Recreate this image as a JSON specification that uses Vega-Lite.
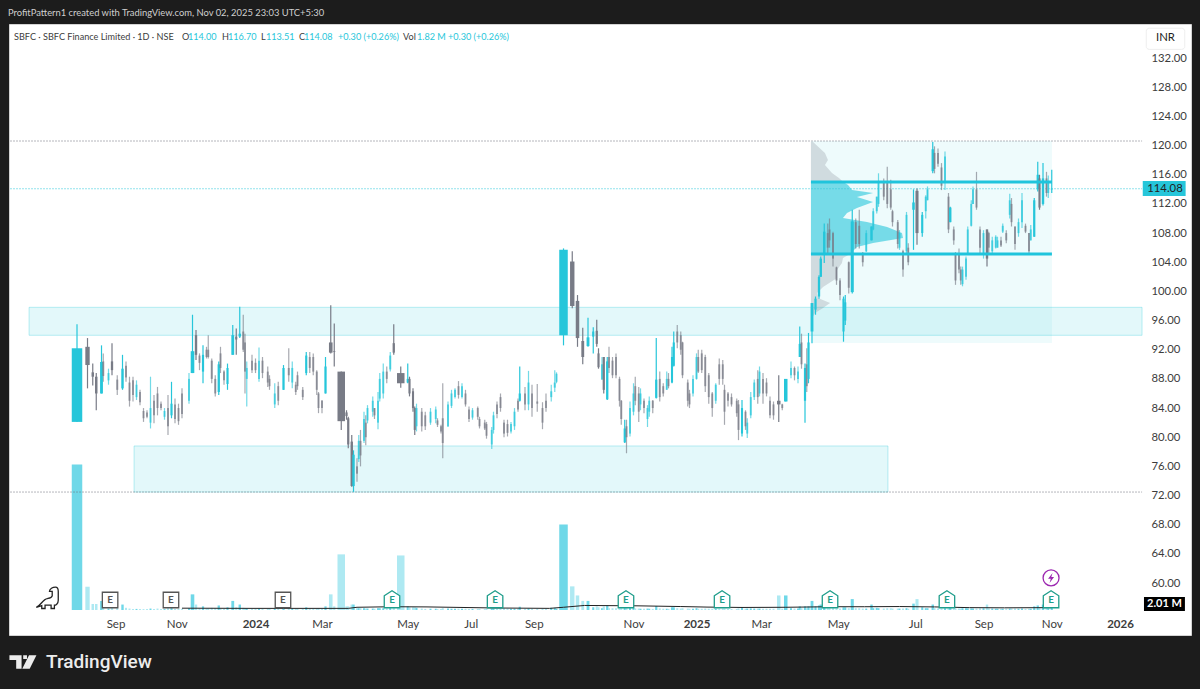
{"$schema":"https://vega.github.io/schema/vega-lite/v6.json","width":1182,"height":611,"autosize":"none","padding":{"left":9,"top":24,"right":9,"bottom":54},"background":"#1c1c1c","view":{"fill":"#ffffff","stroke":"#d4d4d4"},
"config":{"font":"Lato"},
"datasets":{"candles":[
{"i":0,"o":82.1,"h":95.5,"l":82.1,"c":92.2,"v":80},{"i":6,"o":92.4,"h":93.6,"l":86.7,"c":89.9,"v":12.8},{"i":9,"o":88.9,"h":90.1,"l":87.1,"c":88.3,"v":3.3},{"i":11,"o":88.3,"h":88.8,"l":83.7,"c":86,"v":3.3},{"i":14,"o":86,"h":92.6,"l":86,"c":90.3,"v":5},{"i":15,"o":90.4,"h":91.5,"l":87.6,"c":88.4,"v":1},{"i":18,"o":87.8,"h":89.4,"l":87.2,"c":88.8,"v":0.8},{"i":20,"o":90.4,"h":92.9,"l":88.5,"c":89.2,"v":2.5},{"i":23,"o":87.9,"h":88.5,"l":85.8,"c":86.5,"v":1},{"i":26,"o":86.7,"h":91.3,"l":86.5,"c":89.4,"v":3},{"i":28,"o":89.8,"h":90.4,"l":87.6,"c":88.2,"v":1.2},{"i":30,"o":87.5,"h":88.3,"l":84.2,"c":85,"v":0.8},{"i":32,"o":87.8,"h":88.3,"l":84.9,"c":85.8,"v":0.6},{"i":34,"o":85.5,"h":87.8,"l":85.1,"c":87.2,"v":0.6},{"i":36,"o":86.2,"h":86.5,"l":84.4,"c":84.8,"v":0.6},{"i":38,"o":83.6,"h":84,"l":82.1,"c":82.6,"v":0.5},{"i":40,"o":83.4,"h":83.7,"l":82.6,"c":82.8,"v":0.5},{"i":42,"o":82,"h":88.3,"l":81.2,"c":84,"v":0.8},{"i":44,"o":85,"h":85.8,"l":81.9,"c":83,"v":0.6},{"i":46,"o":86,"h":86.9,"l":83,"c":84,"v":0.8},{"i":48,"o":84.6,"h":84.9,"l":83.7,"c":84,"v":0.5},{"i":50,"o":82.8,"h":84,"l":82.4,"c":83.6,"v":0.5},{"i":52,"o":84,"h":85.8,"l":80.3,"c":81.5,"v":1},{"i":54,"o":83,"h":87.6,"l":82.6,"c":84.6,"v":1.5},{"i":56,"o":84.5,"h":85.3,"l":81.9,"c":82.5,"v":0.6},{"i":58,"o":84,"h":84.6,"l":81.7,"c":82.2,"v":0.6},{"i":60,"o":86,"h":86.7,"l":82.6,"c":83.2,"v":0.7},{"i":64,"o":85,"h":88.8,"l":84.6,"c":88,"v":1},{"i":66,"o":88.8,"h":96.8,"l":88.8,"c":91.8,"v":8.6},{"i":68,"o":94,"h":94.7,"l":90.6,"c":91.3,"v":3},{"i":70,"o":91.2,"h":91.5,"l":89.2,"c":90.2,"v":1},{"i":72,"o":89,"h":92.6,"l":87.4,"c":91.3,"v":2},{"i":74,"o":92,"h":92.4,"l":90.8,"c":91,"v":0.8},{"i":75,"o":92,"h":94,"l":90.8,"c":91,"v":0.8},{"i":77,"o":90.5,"h":90.8,"l":87.4,"c":88,"v":1.2},{"i":79,"o":88,"h":88.5,"l":85.6,"c":86,"v":1},{"i":81,"o":86.2,"h":90.4,"l":85.8,"c":90,"v":2.5},{"i":82,"o":91.5,"h":92.4,"l":88.8,"c":89.5,"v":0.8},{"i":84,"o":89,"h":89.2,"l":87.2,"c":87.8,"v":0.7},{"i":86,"o":87.3,"h":90.1,"l":86.5,"c":89.5,"v":1.5},{"i":89,"o":91.3,"h":95.4,"l":91.3,"c":94,"v":5},{"i":91,"o":93.8,"h":94.9,"l":91.3,"c":93.4,"v":1.5},{"i":93,"o":93.8,"h":97.9,"l":93.6,"c":94.2,"v":3},{"i":95,"o":94.5,"h":96.8,"l":91.7,"c":92,"v":1.2},{"i":96,"o":93,"h":94.2,"l":86,"c":89,"v":1},{"i":97,"o":88,"h":90.4,"l":84.2,"c":89.5,"v":0.8},{"i":100,"o":90.5,"h":91.3,"l":88.8,"c":89.2,"v":0.7},{"i":102,"o":90.2,"h":90.8,"l":88.8,"c":89.2,"v":0.6},{"i":104,"o":88,"h":92.3,"l":87.6,"c":90.5,"v":0.8},{"i":106,"o":90.5,"h":91,"l":88.1,"c":88.8,"v":0.7},{"i":109,"o":89,"h":89.7,"l":86.9,"c":87.5,"v":0.6},{"i":110,"o":88,"h":88.5,"l":86.5,"c":87,"v":0.6},{"i":113,"o":84.5,"h":87.4,"l":84,"c":86,"v":0.7},{"i":115,"o":87,"h":87.6,"l":84.4,"c":85,"v":0.6},{"i":118,"o":86.5,"h":89.9,"l":86.5,"c":89.5,"v":2},{"i":121,"o":89.5,"h":92.2,"l":87.6,"c":88.5,"v":1},{"i":123,"o":87.5,"h":90.4,"l":86.7,"c":89.5,"v":0.9},{"i":125,"o":87.2,"h":87.6,"l":85.8,"c":86.2,"v":0.6},{"i":126,"o":88.5,"h":89,"l":86.5,"c":87,"v":0.6},{"i":129,"o":86.5,"h":86.9,"l":85.1,"c":85.5,"v":0.6},{"i":131,"o":88.8,"h":91.7,"l":88.5,"c":91.2,"v":1.5},{"i":133,"o":91,"h":91.7,"l":88.8,"c":89.5,"v":0.8},{"i":135,"o":91,"h":91.5,"l":88.5,"c":89,"v":0.8},{"i":137,"o":89,"h":89.2,"l":85.8,"c":86.5,"v":0.8},{"i":138,"o":86,"h":86.2,"l":83.3,"c":84,"v":0.9},{"i":140,"o":85,"h":85.1,"l":83.3,"c":84,"v":0.7},{"i":142,"o":86,"h":91,"l":86,"c":89.7,"v":2},{"i":145,"o":93,"h":98.1,"l":91.5,"c":91.6,"v":8.6},{"i":147,"o":91.8,"h":95.6,"l":89.7,"c":91.7,"v":2},{"i":151,"o":89,"h":89,"l":81,"c":82.2,"v":30.6},{"i":154,"o":83.4,"h":83.7,"l":82.4,"c":82.9,"v":2},{"i":155,"o":82.6,"h":82.8,"l":78.5,"c":79,"v":2},{"i":157,"o":79.4,"h":80.3,"l":73.2,"c":73.3,"v":3},{"i":158,"o":73.3,"h":78.2,"l":72.5,"c":77.6,"v":3},{"i":160,"o":76,"h":77.1,"l":73.9,"c":75,"v":1},{"i":161,"o":77,"h":80.3,"l":76.6,"c":79.5,"v":1},{"i":162,"o":79.5,"h":81,"l":76,"c":77.5,"v":1},{"i":164,"o":79.5,"h":83.5,"l":79.2,"c":82.5,"v":1},{"i":165,"o":82,"h":83,"l":78.9,"c":80,"v":0.8},{"i":166,"o":82.3,"h":84.4,"l":81.9,"c":84,"v":0.8},{"i":169,"o":83.5,"h":85.6,"l":82.8,"c":85,"v":0.8},{"i":170,"o":84,"h":84,"l":82.5,"c":83,"v":0.7},{"i":172,"o":82,"h":86.2,"l":81.1,"c":85,"v":1},{"i":173,"o":85.3,"h":88.8,"l":84.9,"c":88,"v":1},{"i":175,"o":86,"h":90.1,"l":85.3,"c":89,"v":1},{"i":177,"o":89,"h":89.7,"l":87.4,"c":88,"v":0.9},{"i":179,"o":89.3,"h":91.7,"l":89,"c":91.2,"v":1.2},{"i":181,"o":92.9,"h":95.5,"l":91.3,"c":91.6,"v":2.5},{"i":185,"o":88.8,"h":89.7,"l":86.8,"c":87.4,"v":30},{"i":189,"o":87.5,"h":90.1,"l":87.4,"c":88,"v":2},{"i":190,"o":88,"h":88.3,"l":85.6,"c":86,"v":1.5},{"i":192,"o":86.3,"h":86.7,"l":83.5,"c":84,"v":1.5},{"i":193,"o":84,"h":84.2,"l":80.3,"c":81,"v":1.5},{"i":194,"o":81.5,"h":84.6,"l":80.8,"c":84,"v":1.2},{"i":197,"o":83.5,"h":84,"l":80.8,"c":81.5,"v":0.8},{"i":199,"o":83,"h":83.5,"l":81,"c":81.5,"v":0.6},{"i":202,"o":82,"h":84,"l":81.7,"c":83.5,"v":0.7},{"i":205,"o":82.5,"h":84.2,"l":81.9,"c":83.8,"v":0.7},{"i":206,"o":82.3,"h":82.6,"l":81.4,"c":81.7,"v":0.5},{"i":208,"o":81.5,"h":81.7,"l":80.5,"c":80.8,"v":0.5},{"i":209,"o":82.6,"h":87.4,"l":77.1,"c":79.2,"v":1},{"i":212,"o":81.5,"h":84.9,"l":81.4,"c":84.5,"v":0.8},{"i":214,"o":84.3,"h":86.5,"l":84,"c":86,"v":0.7},{"i":216,"o":85.5,"h":86.7,"l":85.3,"c":86.5,"v":0.7},{"i":218,"o":87,"h":87.7,"l":85.3,"c":85.8,"v":0.7},{"i":220,"o":85.5,"h":87.4,"l":85.3,"c":87,"v":0.7},{"i":222,"o":86,"h":86.5,"l":84.2,"c":84.5,"v":0.7},{"i":224,"o":83.8,"h":84.2,"l":82.1,"c":82.5,"v":0.6},{"i":226,"o":82.7,"h":84,"l":82.4,"c":83.7,"v":0.6},{"i":229,"o":84,"h":84.2,"l":82.4,"c":82.8,"v":0.6},{"i":230,"o":82.5,"h":82.8,"l":81.2,"c":81.5,"v":0.6},{"i":233,"o":82,"h":82.4,"l":81,"c":81.2,"v":0.5},{"i":234,"o":81.8,"h":82.1,"l":79.8,"c":80.2,"v":0.6},{"i":237,"o":79,"h":81.4,"l":78.4,"c":81,"v":0.8},{"i":238,"o":81,"h":83.5,"l":80.5,"c":83,"v":0.8},{"i":240,"o":84.5,"h":84.9,"l":82.6,"c":83.2,"v":0.7},{"i":242,"o":85.5,"h":86,"l":83.5,"c":84,"v":0.8},{"i":244,"o":82,"h":82.4,"l":80,"c":80.5,"v":1},{"i":246,"o":81.8,"h":82.4,"l":80.1,"c":80.6,"v":0.8},{"i":248,"o":80.8,"h":82.1,"l":80.5,"c":81.8,"v":0.7},{"i":250,"o":81.5,"h":84,"l":81,"c":83.5,"v":0.7},{"i":252,"o":85,"h":85.3,"l":83.5,"c":83.8,"v":0.7},{"i":253,"o":85,"h":89.7,"l":84.9,"c":86,"v":1.8},{"i":256,"o":86,"h":86.9,"l":83.7,"c":84.5,"v":0.7},{"i":258,"o":84.5,"h":89.1,"l":83.7,"c":87.5,"v":0.8},{"i":260,"o":86,"h":87.2,"l":82.8,"c":84,"v":0.7},{"i":263,"o":84.9,"h":87.3,"l":83.5,"c":84.6,"v":0.7},{"i":266,"o":84,"h":84.8,"l":81.1,"c":82,"v":0.7},{"i":268,"o":85,"h":86,"l":83.5,"c":84,"v":0.7},{"i":271,"o":85.5,"h":87.2,"l":84.9,"c":86.3,"v":1.2},{"i":273,"o":86.8,"h":89.2,"l":86.2,"c":87.5,"v":1.2},{"i":274,"o":87.6,"h":88.9,"l":87.4,"c":88.7,"v":0.7},
{"i":278,"o":94,"h":105.9,"l":92.6,"c":105.7,"v":47},{"i":283,"o":104.1,"h":105.5,"l":97.7,"c":98,"v":13},{"i":286,"o":98.7,"h":99.5,"l":92.4,"c":93.6,"v":8},{"i":289,"o":93.2,"h":95,"l":90,"c":91,"v":5},{"i":292,"o":92.5,"h":96.4,"l":92.4,"c":93.7,"v":5},{"i":295,"o":93.8,"h":95.1,"l":91.5,"c":94.5,"v":1.5},{"i":297,"o":94.6,"h":96.1,"l":92.4,"c":92.8,"v":2},{"i":298,"o":91.5,"h":92.2,"l":89.4,"c":89.6,"v":1.5},{"i":300,"o":87.9,"h":91,"l":87.9,"c":90,"v":1},{"i":301,"o":91,"h":91,"l":86,"c":86.5,"v":2},{"i":303,"o":85.2,"h":91,"l":85.1,"c":90.4,"v":2.5},{"i":304,"o":91,"h":92.4,"l":88.8,"c":89.5,"v":1},{"i":306,"o":90.5,"h":91,"l":88.1,"c":88.5,"v":1},{"i":308,"o":91,"h":91.5,"l":88.1,"c":88.5,"v":1},{"i":310,"o":88,"h":88.3,"l":84.2,"c":85,"v":0.9},{"i":311,"o":85,"h":85.1,"l":81.7,"c":82.5,"v":1},{"i":313,"o":79.3,"h":82.4,"l":79.2,"c":81.2,"v":2},{"i":314,"o":81.5,"h":82.4,"l":77.8,"c":80,"v":1.2},{"i":316,"o":80.5,"h":84.9,"l":80.1,"c":84,"v":1.2},{"i":318,"o":83.5,"h":87.4,"l":83,"c":86,"v":1.2},{"i":319,"o":87,"h":88.3,"l":84.4,"c":85,"v":0.9},{"i":321,"o":86,"h":86.9,"l":82.1,"c":83.5,"v":0.8},{"i":322,"o":84.5,"h":86.7,"l":83.7,"c":86,"v":0.7},{"i":324,"o":85,"h":85.3,"l":83.3,"c":84,"v":0.7},{"i":326,"o":82.5,"h":84.4,"l":81.4,"c":84,"v":0.8},{"i":327,"o":83.5,"h":85.6,"l":82.8,"c":85,"v":0.7},{"i":329,"o":85,"h":85.1,"l":83.3,"c":84,"v":0.6},{"i":331,"o":85.4,"h":93.6,"l":85.3,"c":87.9,"v":2.2},{"i":333,"o":88,"h":89,"l":84.9,"c":85.5,"v":0.9},{"i":335,"o":87,"h":87.4,"l":85.6,"c":86,"v":0.7},{"i":337,"o":86.5,"h":89,"l":86.5,"c":88,"v":0.7},{"i":338,"o":88,"h":88.8,"l":86.7,"c":87,"v":0.6},{"i":340,"o":87.5,"h":92.4,"l":87.4,"c":91,"v":1.5},{"i":341,"o":89.8,"h":94.5,"l":89.7,"c":93,"v":1.5},{"i":343,"o":94.5,"h":95.4,"l":92.2,"c":93,"v":1},{"i":345,"o":94,"h":94.5,"l":91.3,"c":92,"v":0.8},{"i":346,"o":93,"h":93.1,"l":88.1,"c":88.5,"v":1},{"i":349,"o":87.5,"h":87.9,"l":84.2,"c":85,"v":0.8},{"i":350,"o":86,"h":86.5,"l":84,"c":84.5,"v":0.7},{"i":352,"o":86,"h":88.5,"l":85.6,"c":88,"v":0.7},{"i":354,"o":88,"h":91.5,"l":87.9,"c":91,"v":1},{"i":355,"o":91,"h":92,"l":88.8,"c":89,"v":0.7},{"i":357,"o":91.5,"h":92,"l":88.8,"c":89.2,"v":0.7},{"i":359,"o":91,"h":91.3,"l":86.2,"c":87,"v":0.8},{"i":361,"o":88.5,"h":88.8,"l":84.6,"c":85.5,"v":0.7},{"i":363,"o":86,"h":86.2,"l":82.8,"c":84,"v":0.7},{"i":365,"o":85,"h":87.4,"l":84.6,"c":87.2,"v":0.8},{"i":367,"o":90,"h":90.8,"l":87.2,"c":88,"v":0.8},{"i":369,"o":90,"h":90.6,"l":87.2,"c":88,"v":0.8},{"i":370,"o":86.5,"h":87.2,"l":81.7,"c":83.5,"v":0.8},{"i":372,"o":86,"h":86.2,"l":84.2,"c":85,"v":0.6},{"i":374,"o":85.5,"h":86,"l":84.2,"c":84.5,"v":0.6},{"i":377,"o":85,"h":85.3,"l":82.8,"c":83.3,"v":0.6},{"i":378,"o":84.5,"h":85.1,"l":79.6,"c":81,"v":0.9},{"i":380,"o":80.5,"h":85.1,"l":80.1,"c":84,"v":1.5},{"i":382,"o":83.5,"h":83.7,"l":81,"c":81.5,"v":0.7},{"i":383,"o":80.5,"h":82.6,"l":79.9,"c":82,"v":0.8},{"i":385,"o":83,"h":86.2,"l":82.6,"c":85.5,"v":0.9},{"i":387,"o":85.5,"h":87.9,"l":85.1,"c":87.5,"v":0.8},{"i":389,"o":88,"h":89.2,"l":84.6,"c":85.5,"v":0.8},{"i":390,"o":86,"h":89.7,"l":85.6,"c":89,"v":0.8},{"i":392,"o":88,"h":88.8,"l":84.6,"c":86,"v":0.7},{"i":394,"o":87.5,"h":88.1,"l":85.6,"c":86,"v":0.7},{"i":396,"o":85,"h":85.6,"l":82.6,"c":83,"v":0.7},{"i":398,"o":84.5,"h":84.9,"l":82.4,"c":83,"v":0.7},{"i":401,"o":85,"h":88.5,"l":82.1,"c":84.5,"v":8},{"i":403,"o":84.5,"h":84.6,"l":83.7,"c":84,"v":0.7},{"i":405,"o":84.9,"h":88,"l":84.9,"c":88,"v":8},{"i":408,"o":88.5,"h":90.4,"l":88.1,"c":89.5,"v":1},{"i":410,"o":89.5,"h":89.7,"l":87.8,"c":88.5,"v":0.8},{"i":412,"o":88,"h":89.7,"l":87.4,"c":89,"v":0.8},{"i":413,"o":91,"h":95.2,"l":91,"c":92.8,"v":2},{"i":414,"o":93,"h":94.2,"l":89.4,"c":90,"v":1},{"i":416,"o":85,"h":90.1,"l":82,"c":89.5,"v":2},{"i":417,"o":90,"h":92.2,"l":86.2,"c":87,"v":1},{"i":418,"o":88,"h":94.3,"l":87.4,"c":93,"v":2},{"i":420,"o":94.5,"h":98.4,"l":92.9,"c":98.4,"v":5},{"i":422,"o":97.5,"h":99.3,"l":96.8,"c":99,"v":2},{"i":424,"o":99.3,"h":102.2,"l":99,"c":102,"v":2.5},{"i":425,"o":102,"h":104.8,"l":102,"c":104.5,"v":3},{"i":427,"o":105,"h":109.3,"l":103.9,"c":108.2,"v":3},{"i":429,"o":108,"h":109.3,"l":105,"c":106,"v":1},{"i":430,"o":108.5,"h":110,"l":106,"c":107,"v":1},{"i":432,"o":108,"h":108.2,"l":103.4,"c":104.5,"v":1},{"i":434,"o":103.3,"h":103.4,"l":100.9,"c":101.5,"v":0.8},{"i":436,"o":101.5,"h":101.8,"l":98.8,"c":99.5,"v":0.8},{"i":438,"o":94.5,"h":99.3,"l":93.1,"c":99,"v":1.5},{"i":439,"o":96,"h":99.5,"l":95.4,"c":98.5,"v":1.5},{"i":441,"o":104,"h":104.1,"l":99.7,"c":100.5,"v":1},{"i":443,"o":99.9,"h":111.2,"l":99.7,"c":109.6,"v":6},{"i":445,"o":109.5,"h":110,"l":105.9,"c":106.5,"v":1},{"i":447,"o":109,"h":111.2,"l":105.9,"c":106.5,"v":1},{"i":449,"o":105,"h":105.4,"l":103.4,"c":104,"v":0.8},{"i":451,"o":105.5,"h":108.4,"l":105.4,"c":108,"v":0.8},{"i":454,"o":107,"h":108.9,"l":107,"c":108.9,"v":3},{"i":455,"o":108.5,"h":111.4,"l":108.4,"c":111,"v":1},{"i":457,"o":111,"h":113,"l":110.7,"c":113,"v":1.2},{"i":458,"o":112,"h":116.2,"l":111.6,"c":115,"v":1},{"i":461,"o":115,"h":115.5,"l":112.5,"c":113,"v":0.8},{"i":463,"o":115,"h":117.1,"l":111.4,"c":112,"v":1},{"i":465,"o":114,"h":115.3,"l":111.2,"c":111.5,"v":1},{"i":466,"o":111,"h":111.2,"l":108.9,"c":109.5,"v":0.8},{"i":469,"o":109.5,"h":109.8,"l":105.9,"c":106.5,"v":0.8},{"i":470,"o":106,"h":108.4,"l":105.7,"c":108,"v":0.8},{"i":472,"o":105.5,"h":105.7,"l":102,"c":103,"v":0.8},{"i":474,"o":105.5,"h":110.9,"l":105.2,"c":110.5,"v":1},{"i":475,"o":106,"h":106.6,"l":103.6,"c":104,"v":0.7},{"i":478,"o":111.2,"h":114,"l":105.7,"c":112.2,"v":3.5},{"i":480,"o":113.8,"h":114.1,"l":106.4,"c":108,"v":6},{"i":483,"o":108,"h":110.9,"l":107.5,"c":110.5,"v":1.5},{"i":485,"o":111,"h":113.2,"l":110,"c":113,"v":1},{"i":486,"o":112.5,"h":114.4,"l":112.5,"c":114,"v":1},{"i":489,"o":116.5,"h":120.5,"l":116.2,"c":119.5,"v":3},{"i":490,"o":119,"h":119.9,"l":116.2,"c":116.8,"v":1},{"i":492,"o":119,"h":119.6,"l":117.1,"c":117.5,"v":0.8},{"i":494,"o":117,"h":117.6,"l":113.9,"c":114.5,"v":0.8},{"i":496,"o":115,"h":119.2,"l":113.9,"c":118.5,"v":0.9},{"i":498,"o":113,"h":113.5,"l":108,"c":108.5,"v":0.9},{"i":499,"o":109.5,"h":111.6,"l":109.5,"c":111.5,"v":3},{"i":501,"o":108.5,"h":108.9,"l":106.4,"c":107,"v":0.8},{"i":502,"o":105,"h":105.4,"l":100.9,"c":101.5,"v":0.9},{"i":504,"o":105,"h":105.9,"l":102.5,"c":103,"v":0.8},{"i":505,"o":103,"h":103.4,"l":100.9,"c":101.5,"v":0.8},{"i":506,"o":101,"h":103.4,"l":100.7,"c":103,"v":1},{"i":508,"o":102,"h":104.8,"l":101.6,"c":104.5,"v":0.9},{"i":509,"o":105,"h":108.9,"l":105,"c":108.5,"v":0.9},{"i":511,"o":109,"h":112.5,"l":108.9,"c":112,"v":0.9},{"i":512,"o":112,"h":114.4,"l":112,"c":114,"v":0.8},{"i":514,"o":114,"h":116.4,"l":111.2,"c":111.5,"v":0.8},{"i":516,"o":108.5,"h":108.9,"l":105.2,"c":106,"v":0.9},{"i":518,"o":105,"h":108.4,"l":104.5,"c":108,"v":1},{"i":520,"o":108.5,"h":108.5,"l":103.4,"c":104.5,"v":3},{"i":521,"o":108,"h":108.2,"l":105.2,"c":106,"v":0.9},{"i":523,"o":105.5,"h":107.5,"l":105.2,"c":107,"v":0.8},{"i":525,"o":106,"h":107.7,"l":105.9,"c":107.5,"v":0.7},{"i":526,"o":106,"h":107.5,"l":106,"c":107,"v":0.7},{"i":528,"o":107,"h":107.5,"l":106.1,"c":106.3,"v":0.7},{"i":529,"o":108.2,"h":109.3,"l":108,"c":109,"v":0.7},{"i":531,"o":108,"h":108.4,"l":106.6,"c":107,"v":0.7},{"i":533,"o":110.5,"h":113.4,"l":110,"c":112.5,"v":0.8},{"i":534,"o":112,"h":112.8,"l":108.9,"c":109.5,"v":0.8},{"i":536,"o":108.9,"h":108.9,"l":105.7,"c":106.5,"v":0.8},{"i":538,"o":108,"h":110,"l":107.5,"c":109.5,"v":0.7},{"i":540,"o":109.5,"h":113.5,"l":108.7,"c":112.5,"v":0.8},{"i":542,"o":109,"h":109.3,"l":108,"c":108.2,"v":0.6},{"i":544,"o":108,"h":108,"l":105.2,"c":105.5,"v":0.7},{"i":545,"o":107,"h":109.1,"l":107,"c":108.5,"v":0.7},{"i":547,"o":107.5,"h":112.8,"l":107.5,"c":112.5,"v":2},{"i":549,"o":114,"h":117.8,"l":113.7,"c":116,"v":2.5},{"i":550,"o":115.5,"h":116,"l":111.2,"c":111.5,"v":1.5},{"i":552,"o":112,"h":117.6,"l":111.8,"c":115.5,"v":3},{"i":554,"o":115.5,"h":116.4,"l":113,"c":113.5,"v":1},{"i":555,"o":113.5,"h":115.9,"l":112.8,"c":115,"v":0.9},{"i":557,"o":114,"h":116.7,"l":113.51,"c":114.08,"v":1.82}],
"ma":[{"i":60,"m":1},{"i":100,"m":0.9},{"i":118,"m":0.9},{"i":140,"m":0.9},{"i":155,"m":0.9},{"i":160,"m":1.5},{"i":180,"m":1.8},{"i":200,"m":1.7},{"i":240,"m":1.1},{"i":270,"m":0.9},{"i":278,"m":1.5},{"i":290,"m":2.5},{"i":320,"m":2.3},{"i":345,"m":1.9},{"i":360,"m":1.6},{"i":380,"m":1.4},{"i":405,"m":1.5},{"i":430,"m":1.8},{"i":450,"m":1.8},{"i":470,"m":1.9},{"i":490,"m":1.7},{"i":510,"m":1.3},{"i":530,"m":1.2},{"i":557,"m":1.3}],
"grey":[{"zone":"top","p":120.49,"i":419.4,"i2":420.6},{"zone":"top","p":118.98,"i":419.4,"i2":427.4},{"zone":"top","p":118.02,"i":419.4,"i2":429.1},{"zone":"top","p":117.34,"i":419.4,"i2":427.4},{"zone":"top","p":116.24,"i":419.4,"i2":431.4},{"zone":"top","p":115.56,"i":419.4,"i2":435.4},{"zone":"top","p":115.05,"i":419.4,"i2":437.7},{"zone":"bottom","p":105.13,"i":419.4,"i2":441.7},{"zone":"bottom","p":104.58,"i":419.4,"i2":437.7},{"zone":"bottom","p":103.9,"i":419.4,"i2":437.1},{"zone":"bottom","p":102.94,"i":419.4,"i2":434.3},{"zone":"bottom","p":101.84,"i":419.4,"i2":434.3},{"zone":"bottom","p":100.6,"i":419.4,"i2":426.3},{"zone":"bottom","p":99.78,"i":419.4,"i2":422.9},{"zone":"bottom","p":99.1,"i":419.4,"i2":423.4},{"zone":"bottom","p":98.41,"i":419.4,"i2":430.3},{"zone":"bottom","p":97.72,"i":419.4,"i2":426.3},{"zone":"bottom","p":97.04,"i":419.4,"i2":421.7},{"zone":"bottom","p":96.08,"i":419.4,"i2":419.4}],
"teal":[{"p":115.05,"i":419.4,"i2":437.7},{"p":114.59,"i":419.4,"i2":440.6},{"p":113.91,"i":419.4,"i2":442.9},{"p":113.5,"i":419.4,"i2":454.9},{"p":112.95,"i":419.4,"i2":445.7},{"p":112.26,"i":419.4,"i2":454.9},{"p":111.44,"i":419.4,"i2":445.7},{"p":110.75,"i":419.4,"i2":440},{"p":110.07,"i":419.4,"i2":437.7},{"p":109.52,"i":419.4,"i2":451.4},{"p":108.83,"i":419.4,"i2":462.9},{"p":108.01,"i":419.4,"i2":471.4},{"p":107.33,"i":419.4,"i2":472},{"p":106.64,"i":419.4,"i2":454.9},{"p":106.09,"i":419.4,"i2":445.7},{"p":105.13,"i":419.4,"i2":441.7}]},
"encoding":{"x":{"field":"i","type":"quantitative","scale":{"domain":[-38.86,636.57],"nice":false,"zero":false,"padding":0},"axis":{"orient":"bottom","offset":-19,"domain":false,"ticks":false,"grid":false,"title":null,"labelPadding":2,"labelFontSize":11.5,"labelColor":"#3c3c3c","labelOverlap":false,"labelFlush":false,"labelBound":false,"values":[22,57,102,140,189,225,261,318,354,391,435,479,518,557,596],"labelExpr":"({'22':'Sep','57':'Nov','102':'2024','140':'Mar','189':'May','225':'Jul','261':'Sep','318':'Nov','354':'2025','391':'Mar','435':'May','479':'Jul','518':'Sep','557':'Nov','596':'2026'})[datum.value]","labelFontWeight":{"condition":{"test":"datum.value==102||datum.value==354||datum.value==596","value":"bold"},"value":"normal"}}}},
"layer":[
{"data":{"values":[{"i":0,"p":60}]},"mark":{"type":"tick","opacity":0},"encoding":{"y":{"field":"p","type":"quantitative","scale":{"domain":[52.87,136.68],"nice":false,"zero":false,"padding":0},"axis":{"orient":"right","offset":-44,"domain":false,"ticks":false,"grid":false,"title":null,"labelPadding":4,"labelAlign":"left","labelFontSize":11.3,"labelColor":"#3c3c3c","labelOverlap":false,"format":".2f","values":[60,64,68,72,76,80,84,88,92,96,100,104,108,112,116,120,124,128,132]}}}},
{"data":{"name":"candles"},"layer":[
{"mark":{"type":"bar"},"encoding":{"y":{"field":"v","type":"quantitative","scale":{"domain":[-13.75,322.3],"nice":false,"zero":false},"axis":null},"y2":{"datum":0},"size":{"field":"v","type":"quantitative","scale":{"domain":[0,3,8,30,80],"range":[1.8,2.4,3.5,7.5,10.5]},"legend":null},"color":{"condition":{"test":"datum.c>=datum.o","value":"#6fd8e8"},"value":"#aee9f2"}}}]},
{"data":{"name":"ma"},"layer":[{"mark":{"type":"line","color":"#222222","strokeWidth":1},"encoding":{"y":{"field":"m","type":"quantitative","scale":{"domain":[-13.75,322.3],"nice":false,"zero":false},"axis":null}}}]},
{"layer":[
{"data":{"values":[{"i":-27.4,"i2":608.6,"p":97.82,"p2":93.98},{"i":32.6,"i2":463.4,"p":78.8,"p2":72.48}]},"mark":{"type":"rect","fill":"#26c6da","fillOpacity":0.13,"stroke":"#26c6da","strokeOpacity":0.3,"strokeWidth":1},"encoding":{"x2":{"field":"i2"},"y":{"field":"p","type":"quantitative","scale":{"domain":[52.87,136.68],"nice":false,"zero":false},"axis":null},"y2":{"field":"p2"}}},
{"data":{"values":[{"i":419.4,"i2":557.1,"p":120.63,"p2":92.92}]},"mark":{"type":"rect","fill":"#26c6da","fillOpacity":0.08},"encoding":{"x2":{"field":"i2"},"y":{"field":"p","type":"quantitative","scale":{"domain":[52.87,136.68],"nice":false,"zero":false},"axis":null},"y2":{"field":"p2"}}},
{"data":{"name":"grey"},"mark":{"type":"area","orient":"horizontal","color":"#787b86","opacity":0.25},"encoding":{"x2":{"field":"i2"},"y":{"field":"p","type":"quantitative","scale":{"domain":[52.87,136.68],"nice":false,"zero":false},"axis":null},"detail":{"field":"zone"}}},
{"data":{"name":"teal"},"mark":{"type":"area","orient":"horizontal","color":"#26c6da","opacity":0.6},"encoding":{"x2":{"field":"i2"},"y":{"field":"p","type":"quantitative","scale":{"domain":[52.87,136.68],"nice":false,"zero":false},"axis":null}}},
{"data":{"values":[{"i":-38,"i2":608.6,"p":120.63},{"i":-38,"i2":608.6,"p":72.48}]},"mark":{"type":"rule","color":"#6b6e78","strokeWidth":1,"strokeDash":[1,2]},"encoding":{"x2":{"field":"i2"},"y":{"field":"p","type":"quantitative","scale":{"domain":[52.87,136.68],"nice":false,"zero":false},"axis":null}}},
{"data":{"values":[{"i":-38,"i2":608.6,"p":114.08}]},"mark":{"type":"rule","color":"#26c6da","strokeWidth":1,"strokeDash":[1,2]},"encoding":{"x2":{"field":"i2"},"y":{"field":"p","type":"quantitative","scale":{"domain":[52.87,136.68],"nice":false,"zero":false},"axis":null}}},
{"data":{"name":"candles"},"mark":{"type":"rule","strokeWidth":1.2},"encoding":{"y":{"field":"l","type":"quantitative","scale":{"domain":[52.87,136.68],"nice":false,"zero":false},"axis":null},"y2":{"field":"h"},"color":{"condition":{"test":"datum.c>=datum.o","value":"#26c6da"},"value":"#787b86"},"opacity":{"condition":{"test":"datum.v<1.5","value":0.65},"value":1}}},
{"data":{"name":"candles"},"mark":{"type":"bar"},"encoding":{"y":{"field":"o","type":"quantitative","scale":{"domain":[52.87,136.68],"nice":false,"zero":false},"axis":null},"y2":{"field":"c"},"size":{"field":"v","type":"quantitative","scale":{"domain":[0,3,8,30,80],"range":[1.8,2.4,3.5,7.5,10.5]},"legend":null},"color":{"condition":{"test":"datum.c>=datum.o","value":"#26c6da"},"value":"#787b86"},"opacity":{"condition":{"test":"datum.v<1.5","value":0.7},"value":1}}},
{"data":{"values":[{"i":419.4,"i2":557.1,"p":115},{"i":419.4,"i2":557.1,"p":105.13}]},"mark":{"type":"rule","color":"#1fc4dc","strokeWidth":3},"encoding":{"x2":{"field":"i2"},"y":{"field":"p","type":"quantitative","scale":{"domain":[52.87,136.68],"nice":false,"zero":false},"axis":null}}},
{"data":{"values":[{"i":609,"i2":633.5,"p":115.14,"p2":113.09}]},"mark":{"type":"rect","fill":"#26c6da"},"encoding":{"x2":{"field":"i2"},"y":{"field":"p","type":"quantitative","scale":{"domain":[52.87,136.68],"nice":false,"zero":false},"axis":null},"y2":{"field":"p2"}}},
{"data":{"values":[{"i":609.7,"i2":633.1,"p":58.08,"p2":56.16}]},"mark":{"type":"rect","fill":"#000000"},"encoding":{"x2":{"field":"i2"},"y":{"field":"p","type":"quantitative","scale":{"domain":[52.87,136.68],"nice":false,"zero":false},"axis":null},"y2":{"field":"p2"}}},
{"data":{"values":[{"i":611,"i2":633,"p":136.1,"p2":133.2}]},"mark":{"type":"rect","fill":"#ffffff","stroke":"#eeeeee","cornerRadius":3},"encoding":{"x2":{"field":"i2"},"y":{"field":"p","type":"quantitative","scale":{"domain":[52.87,136.68],"nice":false,"zero":false},"axis":null},"y2":{"field":"p2"}}},
{"data":{"values":[{"i":18.9,"p":57.67},{"i":53.7,"p":57.67},{"i":117.7,"p":57.67}]},"mark":{"type":"point","filled":true,"shape":"M-1 -1H1V1H-1Z","fill":"#ffffff","stroke":"#555555","strokeWidth":1.3,"size":240,"opacity":1},"encoding":{"y":{"field":"p","type":"quantitative","scale":{"domain":[52.87,136.68],"nice":false,"zero":false},"axis":null}}},
{"data":{"values":[{"i":18.9,"p":57.67,"t":"E"},{"i":53.7,"p":57.67,"t":"E"},{"i":117.7,"p":57.67,"t":"E"}]},"mark":{"type":"text","color":"#555555","fontSize":10,"fontWeight":"bold"},"encoding":{"y":{"field":"p","type":"quantitative","scale":{"domain":[52.87,136.68],"nice":false,"zero":false},"axis":null},"text":{"field":"t"}}},
{"data":{"values":[{"i":180,"p":57.67},{"i":238.9,"p":57.67},{"i":313.7,"p":57.67},{"i":368.6,"p":57.67},{"i":430.3,"p":57.67},{"i":497.1,"p":57.67},{"i":556.6,"p":57.67}]},"mark":{"type":"point","filled":true,"shape":"M-1 -0.55L0 -1.2L1 -0.55V1H-1Z","fill":"#ffffff","stroke":"#1f9d8b","strokeWidth":1.3,"size":240,"opacity":1},"encoding":{"y":{"field":"p","type":"quantitative","scale":{"domain":[52.87,136.68],"nice":false,"zero":false},"axis":null}}},
{"data":{"values":[{"i":180,"p":57.67,"t":"E"},{"i":238.9,"p":57.67,"t":"E"},{"i":313.7,"p":57.67,"t":"E"},{"i":368.6,"p":57.67,"t":"E"},{"i":430.3,"p":57.67,"t":"E"},{"i":497.1,"p":57.67,"t":"E"},{"i":556.6,"p":57.67,"t":"E"}]},"mark":{"type":"text","color":"#1f9d8b","fontSize":10,"fontWeight":"bold"},"encoding":{"y":{"field":"p","type":"quantitative","scale":{"domain":[52.87,136.68],"nice":false,"zero":false},"axis":null},"text":{"field":"t"}}},
{"data":{"values":[{"i":556.6,"p":60.7}]},"mark":{"type":"point","filled":true,"shape":"circle","fill":"#ffffff","stroke":"#9c27b0","strokeWidth":1.3,"size":254,"opacity":1},"encoding":{"y":{"field":"p","type":"quantitative","scale":{"domain":[52.87,136.68],"nice":false,"zero":false},"axis":null}}},
{"data":{"values":[{"i":556.6,"p":60.7}]},"mark":{"type":"point","filled":true,"shape":"M0.3 -1L-0.6 0.15H-0.05L-0.3 1L0.6 -0.2H0.05Z","fill":"#9c27b0","size":100,"opacity":1},"encoding":{"y":{"field":"p","type":"quantitative","scale":{"domain":[52.87,136.68],"nice":false,"zero":false},"axis":null}}},
{"data":{"values":[{"i":-17,"p":57.94}]},"mark":{"type":"point","filled":true,"shape":"M-1 0.85C-0.6 0.7 -0.4 0.1 0 0.05C0.3 0 0.4 0 0.45 -0.2L0.45 -0.6L0.2 -0.6C0.2 -0.85 0.5 -1 0.75 -1C1 -1 1 -0.8 1 -0.6L1 0.2C1 0.55 0.75 0.65 0.65 0.65L0.65 0.95L0.35 0.95L0.35 0.65L-0.2 0.65L-0.2 0.95L-0.5 0.95L-0.5 0.7Z","fill":"#ffffff","stroke":"#222222","strokeWidth":1.3,"size":484,"opacity":1},"encoding":{"y":{"field":"p","type":"quantitative","scale":{"domain":[52.87,136.68],"nice":false,"zero":false},"axis":null}}},
{"data":{"values":[{"i":-30.9,"p":49.16}]},"mark":{"type":"point","filled":true,"shape":"M-1 -0.5H-0.1V0.5H-0.5V-0.15H-1ZM0.02 -0.5H0.3V-0.22H0.02ZM0.45 -0.5H1L0.5 0.5H-0.05Z","fill":"#ececec","size":729,"opacity":1},"encoding":{"y":{"field":"p","type":"quantitative","scale":{"domain":[52.87,136.68],"nice":false,"zero":false},"axis":null}}},
{"data":{"values":[{"i":-39.43,"p":138.19,"t":"ProfitPattern1 created with TradingView.com, Nov 02, 2025 23:03 UTC+5:30"}]},"mark":{"type":"text","align":"left","baseline":"middle","color":"#cfcfcf","fontSize":9.4},"encoding":{"y":{"field":"p","type":"quantitative","scale":{"domain":[52.87,136.68],"nice":false,"zero":false},"axis":null},"text":{"field":"t"}}},
{"data":{"values":[{"i":-36,"p":134.9,"t":"SBFC · SBFC Finance Limited · 1D · NSE"},{"i":60,"p":134.9,"t":"O"},{"i":82.9,"p":134.9,"t":"H"},{"i":105.1,"p":134.9,"t":"L"},{"i":126.9,"p":134.9,"t":"C"},{"i":186.3,"p":134.9,"t":"Vol"}]},"mark":{"type":"text","align":"left","baseline":"middle","color":"#3c3c3c","fontSize":9.1},"encoding":{"y":{"field":"p","type":"quantitative","scale":{"domain":[52.87,136.68],"nice":false,"zero":false},"axis":null},"text":{"field":"t"}}},
{"data":{"values":[{"i":63.4,"p":134.9,"t":"114.00"},{"i":86.3,"p":134.9,"t":"116.70"},{"i":108,"p":134.9,"t":"113.51"},{"i":129.7,"p":134.9,"t":"114.08"},{"i":149.1,"p":134.9,"t":"+0.30 (+0.26%)"},{"i":194.3,"p":134.9,"t":"1.82 M"},{"i":212,"p":134.9,"t":"+0.30 (+0.26%)"}]},"mark":{"type":"text","align":"left","baseline":"middle","color":"#26c6da","fontSize":9.1},"encoding":{"y":{"field":"p","type":"quantitative","scale":{"domain":[52.87,136.68],"nice":false,"zero":false},"axis":null},"text":{"field":"t"}}},
{"data":{"values":[{"i":621.7,"p":114.1,"t":"114.08"},{"i":622,"p":134.75,"t":"INR"}]},"mark":{"type":"text","align":"center","baseline":"middle","color":"#222222","fontSize":11.3},"encoding":{"y":{"field":"p","type":"quantitative","scale":{"domain":[52.87,136.68],"nice":false,"zero":false},"axis":null},"text":{"field":"t"}}},
{"data":{"values":[{"i":621.4,"p":57.1,"t":"2.01 M"}]},"mark":{"type":"text","align":"center","baseline":"middle","color":"#ffffff","fontSize":11,"fontWeight":"bold"},"encoding":{"y":{"field":"p","type":"quantitative","scale":{"domain":[52.87,136.68],"nice":false,"zero":false},"axis":null},"text":{"field":"t"}}},
{"data":{"values":[{"i":-17.7,"p":49.16,"t":"TradingView"}]},"mark":{"type":"text","align":"left","baseline":"middle","color":"#ececec","font":"Roboto","fontSize":19,"fontWeight":500},"encoding":{"y":{"field":"p","type":"quantitative","scale":{"domain":[52.87,136.68],"nice":false,"zero":false},"axis":null},"text":{"field":"t"}}}
]}
],
"resolve":{"scale":{"y":"independent"}}}
